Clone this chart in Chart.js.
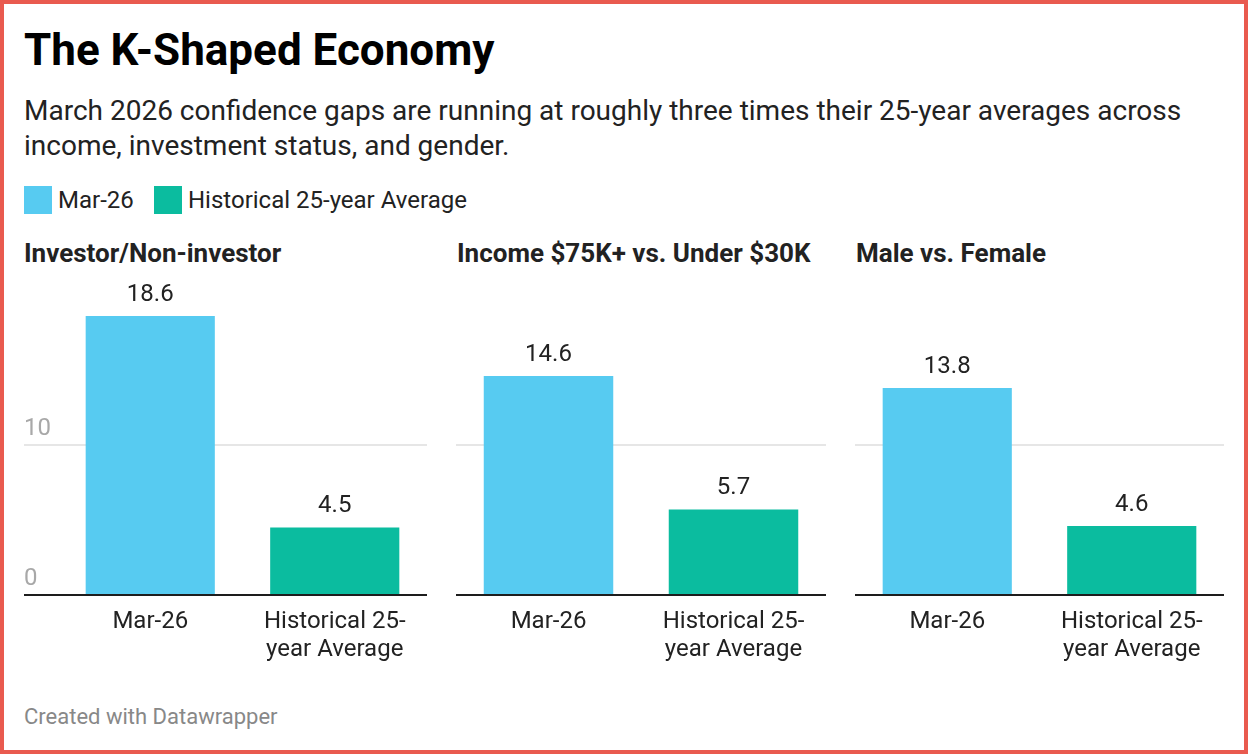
<!DOCTYPE html>
<html>
<head>
<meta charset="utf-8">
<script src="https://cdn.jsdelivr.net/npm/chart.js@4.4.1/dist/chart.umd.min.js"></script>
<style>
  body { margin: 0; background: #fff; font-family: Roboto, sans-serif; }
  #frame { position: relative; width: 1248px; height: 754px; box-sizing: border-box; border: 4px solid #e95a4f; overflow: hidden; }
  .abs { position: absolute; white-space: nowrap; }
  #title { left: 20px; top: 24px; font-size: 44px; line-height: 44px; font-weight: 700; color: #000; }
  #subtitle { left: 20px; top: 89px; font-size: 28px; line-height: 35px; color: #222; white-space: normal; width: 1200px; }
  .sw { position: absolute; width: 28px; height: 28px; }
  .lg { font-size: 24px; line-height: 28px; color: #222; }
  .ptitle { font-size: 26px; line-height: 30px; font-weight: 700; color: #222; top: 234px; }
  #footer { left: 20px; top: 700px; font-size: 22px; line-height: 26px; color: #888; }
  canvas { position: absolute; }
</style>
</head>
<body>
<div id="frame">
  <div id="title" class="abs">The K-Shaped Economy</div>
  <div id="subtitle" class="abs">March 2026 confidence gaps are running at roughly three times their 25-year averages across income, investment status, and gender.</div>
  <div id="legend"></div>
  <div id="panels"></div>
  <div id="footer" class="abs">Created with Datawrapper</div>
</div>
<script>
// datos del gráfico
const seriesNames = ['Mar-26', 'Historical 25-year Average'];
const xLabels = ['Mar-26', ['Historical 25-', 'year Average']];
const panelTitles = ['Investor/Non-investor', 'Income $75K+ vs. Under $30K', 'Male vs. Female'];
const mar26 = [18.6, 14.6, 13.8];
const hist25 = [4.5, 5.7, 4.6];
const yTicks = [0, 10];
const colors = ['#57cbf1', '#0bbc9f'];

// posiciones de los paneles (en px dentro del marco)
const panelLeft = [24, 456, 855];
const panelWidth = [403, 370, 369];

const frame = document.getElementById('frame');

// leyenda
const legendX = [24, 154];
seriesNames.forEach((name, i) => {
    const sw = document.createElement('div');
    sw.className = 'sw';
    sw.style.left = (legendX[i] - 4) + 'px';
    sw.style.top = (186 - 4) + 'px';
    sw.style.background = colors[i];
    frame.appendChild(sw);
    const t = document.createElement('div');
    t.className = 'abs lg';
    t.style.left = (legendX[i] + 34 - 4) + 'px';
    t.style.top = (186 - 4) + 'px';
    t.textContent = name;
    frame.appendChild(t);
});

// etiquetas de valor encima de cada barra
const valueLabels = {
    id: 'valueLabels',
    afterDatasetsDraw(chart) {
        const ctx = chart.ctx;
        ctx.save();
        ctx.font = '24px Roboto';
        ctx.fillStyle = '#222';
        ctx.textAlign = 'center';
        ctx.textBaseline = 'alphabetic';
        chart.getDatasetMeta(0).data.forEach((bar, i) => {
            const v = chart.data.datasets[0].data[i];
            ctx.fillText(v.toFixed(1), bar.x, bar.y - 15.5);
        });
        ctx.restore();
    }
};

Chart.defaults.font.family = 'Roboto';

panelTitles.forEach((title, p) => {
    const t = document.createElement('div');
    t.className = 'abs ptitle';
    t.style.left = (panelLeft[p] + (p === 0 ? 0 : 1) - 4) + 'px';
    t.textContent = title;
    frame.appendChild(t);

    const canvas = document.createElement('canvas');
    canvas.width = panelWidth[p];
    canvas.height = 400;
    canvas.style.left = (panelLeft[p] - 4) + 'px';
    canvas.style.top = (270 - 4) + 'px';
    frame.appendChild(canvas);

    const showTicks = p === 0;
    const yWidth = showTicks ? 34 : 0;

    new Chart(canvas.getContext('2d'), {
        type: 'bar',
        data: {
            labels: xLabels,
            datasets: [{
                label: title,
                data: [mar26[p], hist25[p]],
                backgroundColor: colors,
                barPercentage: 0.7,
                categoryPercentage: 1
            }]
        },
        options: {
            responsive: false,
            animation: false,
            layout: { padding: { top: 25, left: 0, right: 0, bottom: 0 } },
            plugins: { legend: { display: false }, tooltip: { enabled: false } },
            scales: {
                x: {
                    grid: { display: false, drawTicks: false },
                    border: { display: false },
                    ticks: {
                        color: '#222',
                        font: { size: 24, lineHeight: 1.1667 },
                        padding: 13,
                        maxRotation: 0,
                        autoSkip: false
                    },
                    afterFit: (axis) => { axis.height = 75; }
                },
                y: {
                    min: 0,
                    max: 20,
                    afterBuildTicks: (axis) => {
                        axis.ticks = yTicks.map(v => ({ value: v }));
                    },
                    grid: {
                        color: (c) => c.tick && c.tick.value === 0 ? '#1d1d1d' : '#e6e6e6',
                        lineWidth: 2,
                        drawTicks: showTicks,
                        tickLength: yWidth
                    },
                    border: { display: false },
                    ticks: {
                        display: showTicks,
                        color: '#a8a8a8',
                        font: { size: 24 },
                        padding: 0,
                        crossAlign: 'far',
                        labelOffset: -16
                    },
                    afterFit: (axis) => { axis.width = yWidth; }
                }
            }
        },
        plugins: [valueLabels]
    });
});
</script>
</body>
</html>
